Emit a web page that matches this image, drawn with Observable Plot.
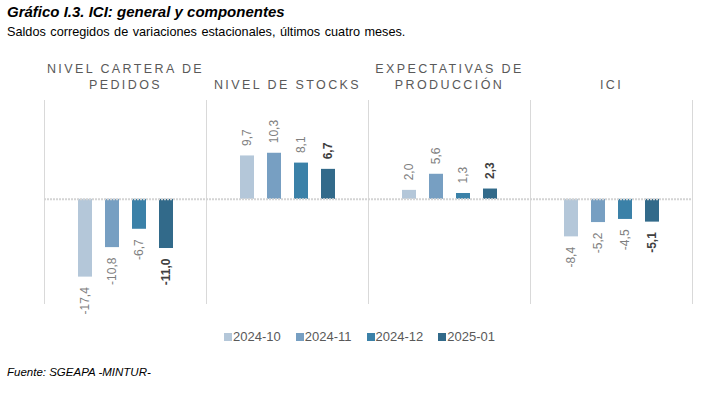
<!DOCTYPE html>
<html>
<head>
<meta charset="utf-8">
<script src="https://cdn.jsdelivr.net/npm/d3@7"></script>
<script src="https://cdn.jsdelivr.net/npm/@observablehq/plot@0.6"></script>
<style>
  body { margin: 0; background: #fff; font-family: "Liberation Sans", Arial, sans-serif; }
  #wrap { position: relative; width: 722px; height: 397px; }
  #title { position: absolute; left: 7px; top: 3px; font-size: 15px; font-weight: bold; font-style: italic; color: #000; }
  #subtitle { position: absolute; left: 7px; top: 25px; font-size: 12.7px; color: #000; word-spacing: 1px; }
  #chart { position: absolute; left: 0; top: 46px; }
  #legend { position: absolute; left: 6px; top: 320px; width: 722px; display: flex; justify-content: center; }
  #footer { position: absolute; left: 7px; top: 366px; font-size: 11.5px; font-style: italic; color: #000; }
  g[aria-label="fx-axis tick label"] text { letter-spacing: 2.4px; }
  .lg-swatch { margin-right: 15px !important; }
  .lg-swatch > svg { margin-right: 1px !important; }
</style>
</head>
<body>
<div id="wrap">
  <div id="title">Gráfico I.3. ICI: general y componentes</div>
  <div id="subtitle">Saldos corregidos de variaciones estacionales, últimos cuatro meses.</div>
  <div id="chart"></div>
  <div id="legend"></div>
  <div id="footer">Fuente: SGEAPA -MINTUR-</div>
</div>
<script>
const categories = ["NIVEL CARTERA DE PEDIDOS", "NIVEL DE STOCKS", "EXPECTATIVAS DE PRODUCCIÓN", "ICI"];
const categoryLabels = ["NIVEL CARTERA DE\nPEDIDOS", "NIVEL DE STOCKS", "EXPECTATIVAS DE\nPRODUCCIÓN", "ICI"];
const months = ["2024-10", "2024-11", "2024-12", "2025-01"];
const colors = ["#b4c7d9", "#779fc2", "#3b81a8", "#326a8a"];
const values_2024_10 = [-17.4, 9.7, 2.0, -8.4];
const values_2024_11 = [-10.8, 10.3, 5.6, -5.2];
const values_2024_12 = [-6.7, 8.1, 1.3, -4.5];
const values_2025_01 = [-11.0, 6.7, 2.3, -5.1];

const series = [values_2024_10, values_2024_11, values_2024_12, values_2025_01];
const data = [];
categories.forEach((c, i) => months.forEach((m, j) => data.push({cat: c, month: m, value: series[j][i]})));
const fmt = v => v.toFixed(1).replace(".", ",");
const labelOf = c => categoryLabels[categories.indexOf(c)];
const last = months[months.length - 1];

const textBase = {fx: "cat", x: "month", y: "value", text: d => fmt(d.value), rotate: -90, lineAnchor: "middle", fontSize: 12};

const chart = Plot.plot({
  width: 722,
  height: 281,
  marginLeft: 43,
  marginRight: 30,
  marginTop: 54,
  marginBottom: 24,
  style: {fontFamily: "'Liberation Sans', Arial, sans-serif", fontSize: "12px", background: "#fff"},
  fx: {domain: categories, padding: 0, axis: null},
  x: {domain: months, axis: null, paddingInner: 0.49, paddingOuter: 1.17},
  y: {domain: [-23.3, 22.1], axis: null},
  color: {domain: months, range: colors},
  marks: [
    Plot.axisFx({anchor: "top", tickSize: 0, tickPadding: 12, label: null, tickFormat: labelOf, fontSize: 12.5, fill: "#595959", lineHeight: 1.25}),
    Plot.frame({anchor: "left", stroke: "#d9d9d9"}),
    Plot.frame({anchor: "right", stroke: "#d9d9d9"}),
    Plot.barY(data, {fx: "cat", x: "month", y: "value", fill: "month"}),
    Plot.ruleY([0], {stroke: "#d4d4d4", strokeWidth: 2, strokeDasharray: "2,1"}),
    Plot.text(data.filter(d => d.value >= 0 && d.month !== last), {...textBase, textAnchor: "start", dy: -10, fill: "#7f7f7f"}),
    Plot.text(data.filter(d => d.value < 0 && d.month !== last), {...textBase, textAnchor: "end", dy: 10, fill: "#7f7f7f"}),
    Plot.text(data.filter(d => d.value >= 0 && d.month === last), {...textBase, textAnchor: "start", dy: -10, fill: "#404040", fontWeight: "bold"}),
    Plot.text(data.filter(d => d.value < 0 && d.month === last), {...textBase, textAnchor: "end", dy: 10, fill: "#404040", fontWeight: "bold"})
  ]
});
document.getElementById("chart").appendChild(chart);

const legend = Plot.legend({
  color: {domain: months, range: colors},
  legend: "swatches",
  swatchSize: 8,
  className: "lg",
  style: {fontFamily: "'Liberation Sans', Arial, sans-serif", fontSize: "13px", color: "#595959"}
});
document.getElementById("legend").appendChild(legend);
</script>
</body>
</html>
